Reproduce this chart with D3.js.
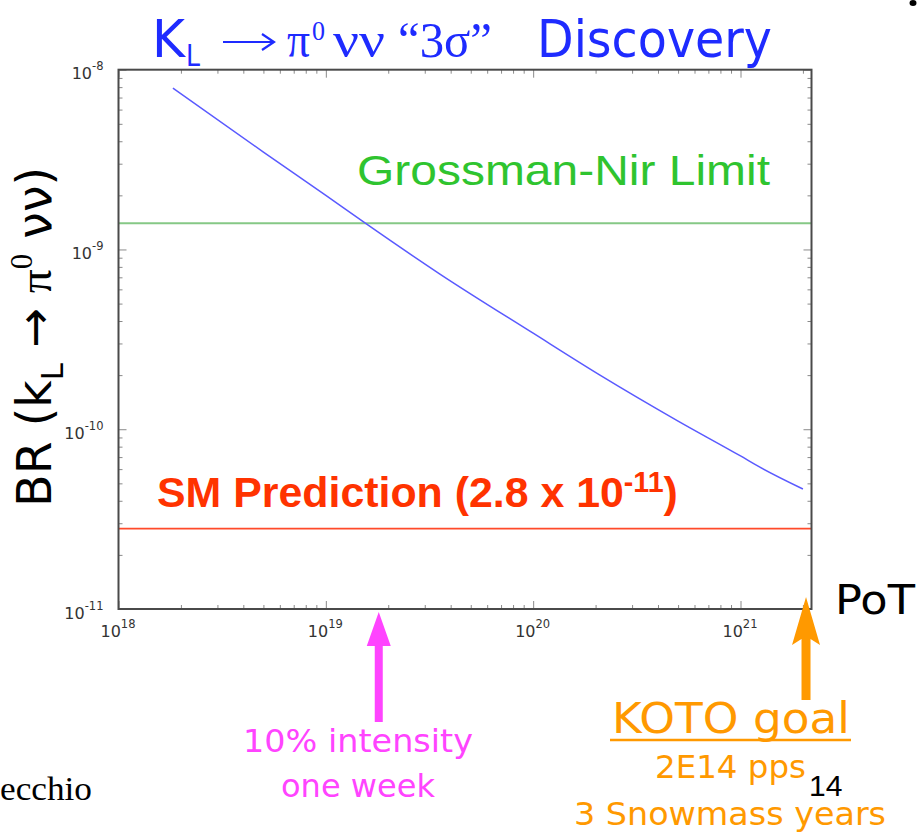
<!DOCTYPE html>
<html>
<head>
<meta charset="utf-8">
<script src="https://cdn.jsdelivr.net/npm/d3@7"></script>
<style>
  body { margin: 0; background: #fff; }
  svg { display: block; }
</style>
</head>
<body>
<svg id="chart" width="920" height="834"></svg>
<script>
// Protons on target needed for a 3-sigma observation, and the branching ratio reached
const potValues = [1.83e18, 5e18, 1e19, 1.55e19, 3.55e19, 1e20, 2.1e20, 5e20, 1e21, 1.24e21, 2.0e21];
const brValues  = [7.9e-9, 3.48e-9, 2.0e-9, 1.4e-9, 7.3e-10, 3.42e-10, 2.0e-10, 1.11e-10, 7.1e-11, 6.15e-11, 4.65e-11];

// Reference levels
const grossmanNirLimit = 1.4e-9;
const smPrediction = 2.8e-11;

// Decade tick exponents
const xTickExponents = [18, 19, 20, 21];
const yTickExponents = [-8, -9, -10, -11];

// Exposure milestones marked with arrows
const tenPercentWeekPoT = 1.8e19;
const kotoGoalPoT = 2.07e21;

const svg = d3.select("#chart");
const comic = "'Comic Sans MS', 'DejaVu Sans', sans-serif";
const serif = "'Liberation Serif', 'DejaVu Serif', serif";
const sans = "'Liberation Sans', Arial, sans-serif";
const tickFont = "'DejaVu Sans', sans-serif";

const plotLeft = 118.5, plotRight = 811.5, plotTop = 69.7, plotBottom = 609;
const x = d3.scaleLog().domain([1e18, 2.2e21]).range([plotLeft, plotRight]);
const y = d3.scaleLog().domain([1e-11, 1e-8]).range([plotBottom, plotTop]);

function fit(sel, w) {
  return sel.attr("textLength", w).attr("lengthAdjust", "spacingAndGlyphs");
}
// Scale a text's font size so that its whole run (tspans included) spans the given width
function fitSize(sel, w) {
  const fs = +sel.attr("font-size");
  const len = sel.node().getComputedTextLength();
  sel.attr("font-size", fs * w / len);
  sel.selectAll("tspan").each(function() {
    const t = d3.select(this);
    if (t.attr("font-size")) t.attr("font-size", +t.attr("font-size") * w / len);
    if (t.attr("dy")) t.attr("dy", +t.attr("dy") * w / len);
  });
  return sel;
}

// ---- Title ----
const blue = "#1e2bff";
const title = svg.append("g").attr("fill", blue);
fit(title.append("text").attr("x", 152).attr("y", 57).attr("font-family", comic).attr("font-size", 52).text("K"), 33);
fit(title.append("text").attr("x", 186).attr("y", 66).attr("font-family", comic).attr("font-size", 30).text("L"), 14);
// thin arrow drawn as a stroke + open head, like a symbol-font arrow
const arrowG = title.append("g").attr("stroke", blue).attr("stroke-width", 2.2).attr("fill", "none");
arrowG.append("line").attr("x1", 223).attr("x2", 273).attr("y1", 42).attr("y2", 42);
arrowG.append("path").attr("d", "M262,34 L274,42 L262,50");
fit(title.append("text").attr("x", 287).attr("y", 57).attr("font-family", serif).attr("font-size", 50).text("\u03c0"), 23);
fit(title.append("text").attr("x", 312).attr("y", 40).attr("font-family", serif).attr("font-size", 28).text("0"), 13);
fit(title.append("text").attr("x", 333).attr("y", 57).attr("font-family", serif).attr("font-size", 50).text("\u03bd\u03bd"), 52);
fit(title.append("text").attr("x", 398).attr("y", 57).attr("font-family", serif).attr("font-size", 50).text("\u201c3\u03c3\u201d"), 94);
fit(title.append("text").attr("x", 537).attr("y", 57).attr("font-family", comic).attr("font-size", 52).text("Discovery"), 235);

// ---- Axes (ticks inside the frame, on all four sides) ----
const xMajor = xTickExponents.map(e => Math.pow(10, e));
const yMajor = yTickExponents.map(e => Math.pow(10, e));
const xMinor = [];
for (let e = 18; e <= 21; e++) for (let m = 2; m <= 9; m++) { const v = m * Math.pow(10, e); if (v < 2.2e21) xMinor.push(v); }
const yMinor = [];
for (let e = -11; e < -8; e++) for (let m = 2; m <= 9; m++) yMinor.push(m * Math.pow(10, e));

const tickColor = "#8a8a8a";
function styleAxis(g) {
  g.select(".domain").remove();
  g.selectAll(".tick line").attr("stroke", tickColor).attr("stroke-width", 1);
}

svg.append("g").attr("transform", `translate(0,${plotBottom})`)
  .call(d3.axisBottom(x).tickValues(xMinor).tickSize(-4).tickFormat(""))
  .call(styleAxis);
svg.append("g").attr("transform", `translate(0,${plotTop})`)
  .call(d3.axisTop(x).tickValues(xMinor).tickSize(-4).tickFormat(""))
  .call(styleAxis);
svg.append("g").attr("transform", `translate(${plotLeft},0)`)
  .call(d3.axisLeft(y).tickValues(yMinor).tickSize(-4).tickFormat(""))
  .call(styleAxis);
svg.append("g").attr("transform", `translate(${plotRight},0)`)
  .call(d3.axisRight(y).tickValues(yMinor).tickSize(-4).tickFormat(""))
  .call(styleAxis);
svg.append("g").attr("transform", `translate(0,${plotTop})`)
  .call(d3.axisTop(x).tickValues(xMajor).tickSize(-8).tickFormat(""))
  .call(styleAxis);
svg.append("g").attr("transform", `translate(${plotRight},0)`)
  .call(d3.axisRight(y).tickValues(yMajor).tickSize(-8).tickFormat(""))
  .call(styleAxis);

const xAxis = svg.append("g").attr("transform", `translate(0,${plotBottom})`)
  .call(d3.axisBottom(x).tickValues(xMajor).tickSize(-8).tickPadding(14).tickFormat(""))
  .call(styleAxis);
xAxis.selectAll(".tick").each(function(d) {
  const t = d3.select(this).select("text")
    .attr("fill", "#333").attr("font-family", tickFont).attr("font-size", 16)
    .attr("dy", null).attr("y", 28).attr("x", -1).attr("text-anchor", "middle");
  t.append("tspan").text("10");
  t.append("tspan").attr("dy", -9).attr("font-size", 11.5).text(Math.round(Math.log10(d)));
});

const yAxis = svg.append("g").attr("transform", `translate(${plotLeft},0)`)
  .call(d3.axisLeft(y).tickValues(yMajor).tickSize(-8).tickPadding(10).tickFormat(""))
  .call(styleAxis);
yAxis.selectAll(".tick").each(function(d) {
  const t = d3.select(this).select("text")
    .attr("fill", "#333").attr("font-family", tickFont).attr("font-size", 16)
    .attr("dy", null).attr("y", 9).attr("x", -15).attr("text-anchor", "end");
  t.append("tspan").text("10");
  t.append("tspan").attr("dy", -9).attr("font-size", 11.5).text(Math.round(Math.log10(d)));
});

// ---- Reference lines ----
svg.append("line")
  .attr("x1", plotLeft).attr("x2", plotRight)
  .attr("y1", y(grossmanNirLimit)).attr("y2", y(grossmanNirLimit))
  .attr("stroke", "#86c886").attr("stroke-width", 2);
svg.append("line")
  .attr("x1", plotLeft).attr("x2", plotRight)
  .attr("y1", y(smPrediction)).attr("y2", y(smPrediction))
  .attr("stroke", "#ff4a2a").attr("stroke-width", 1.6);

// ---- Discovery curve ----
const curve = potValues.map((p, i) => [p, brValues[i]]);
svg.append("path")
  .datum(curve)
  .attr("fill", "none")
  .attr("stroke", "#5a5aff")
  .attr("stroke-width", 1.5)
  .attr("d", d3.line().x(d => x(d[0])).y(d => y(d[1])).curve(d3.curveMonotoneX));

// ---- Frame ----
svg.append("rect")
  .attr("x", plotLeft).attr("y", plotTop)
  .attr("width", plotRight - plotLeft).attr("height", plotBottom - plotTop)
  .attr("fill", "none").attr("stroke", "#4a4a4a").attr("stroke-width", 2);

// ---- In-plot labels ----
fit(svg.append("text").attr("x", 357).attr("y", 185)
  .attr("font-family", sans).attr("font-size", 42).attr("fill", "#2fc42f")
  .text("Grossman-Nir Limit"), 413);

const sm = svg.append("text").attr("x", 157).attr("y", 507)
  .attr("font-family", sans).attr("font-weight", "bold").attr("font-size", 36).attr("fill", "#ff3300");
sm.append("tspan").text("SM Prediction (2.8 x 10");
sm.append("tspan").attr("dy", -13).attr("font-size", 24).text("-11");
sm.append("tspan").attr("dy", 13).text(")");
fitSize(sm, 521);

// ---- Y axis title ----
const yt = svg.append("text")
  .attr("transform", "translate(51,337) rotate(-90)")
  .attr("text-anchor", "middle")
  .attr("font-family", tickFont).attr("font-size", 40).attr("fill", "#000");
yt.append("tspan").text("BR (k");
yt.append("tspan").attr("dy", 10).attr("font-size", 26).text("L");
yt.append("tspan").attr("dy", -10).text(" \u2192 ");
yt.append("tspan").attr("font-family", serif).text("\u03c0");
yt.append("tspan").attr("dy", -16).attr("font-size", 26).attr("font-family", serif).text("0");
yt.append("tspan").attr("dy", 16).text(" \u03bd\u03bd)");
fitSize(yt, 340);

// ---- X axis title ----
fit(svg.append("text").attr("x", 835).attr("y", 614)
  .attr("font-family", comic).attr("font-size", 40).attr("fill", "#000").text("PoT"), 80);

// ---- Milestone arrows ----
function arrow(cx, tipY, tailY, headLen, headHalf, shaftHalf, notch, color) {
  const p = d3.path();
  p.moveTo(cx, tipY);
  p.lineTo(cx + headHalf, tipY + headLen + notch);
  p.lineTo(cx + shaftHalf, tipY + headLen);
  p.lineTo(cx + shaftHalf, tailY);
  p.lineTo(cx - shaftHalf, tailY);
  p.lineTo(cx - shaftHalf, tipY + headLen);
  p.lineTo(cx - headHalf, tipY + headLen + notch);
  p.closePath();
  svg.append("path").attr("d", p.toString()).attr("fill", color);
}
const magenta = "#ff44ff";
const orange = "#ff9900";
arrow(x(tenPercentWeekPoT), 612, 722, 34, 12, 4, 0, magenta);
arrow(x(kotoGoalPoT), 597, 700, 42, 14, 4.5, 6, orange);

// ---- Annotations below the axis ----
fit(svg.append("text").attr("x", 243).attr("y", 752)
  .attr("font-family", comic).attr("font-size", 32).attr("fill", magenta).text("10% intensity"), 230);
fit(svg.append("text").attr("x", 281).attr("y", 797)
  .attr("font-family", comic).attr("font-size", 32).attr("fill", magenta).text("one week"), 154);

fit(svg.append("text").attr("x", 612).attr("y", 733)
  .attr("font-family", comic).attr("font-size", 42).attr("fill", orange).text("KOTO goal"), 238);
svg.append("line").attr("x1", 610).attr("x2", 851).attr("y1", 740).attr("y2", 740)
  .attr("stroke", orange).attr("stroke-width", 2.5);
fit(svg.append("text").attr("x", 655).attr("y", 778)
  .attr("font-family", comic).attr("font-size", 32).attr("fill", orange).text("2E14 pps"), 151);
fit(svg.append("text").attr("x", 574).attr("y", 825)
  .attr("font-family", comic).attr("font-size", 32).attr("fill", orange).text("3 Snowmass years"), 312);

// ---- Page furniture ----
svg.append("text").attr("x", 809).attr("y", 796)
  .attr("font-family", sans).attr("font-size", 30).attr("fill", "#000").text("14");
fit(svg.append("text").attr("x", 0).attr("y", 800)
  .attr("font-family", serif).attr("font-size", 33).attr("fill", "#000").text("ecchio"), 92);
svg.append("ellipse").attr("cx", 913).attr("cy", 3).attr("rx", 3.5).attr("ry", 3).attr("fill", "#000");
</script>
</body>
</html>
